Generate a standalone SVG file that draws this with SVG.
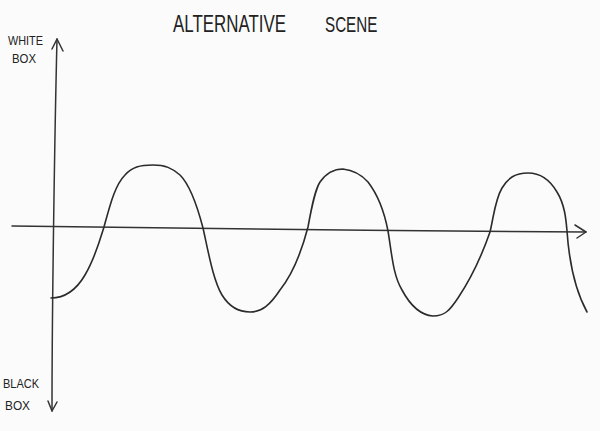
<svg xmlns="http://www.w3.org/2000/svg" width="600" height="431" viewBox="0 0 600 431">
  <style>
    .ink { fill: none; stroke: #2b2b2b; stroke-width: 1.6; stroke-linecap: round; stroke-linejoin: round; }
    .axis { fill: none; stroke: #333; stroke-width: 1.5; stroke-linecap: round; stroke-linejoin: round; }
    .hand { font-family: "Liberation Sans", "DejaVu Sans", sans-serif; fill: #222; }
  </style>
  <rect x="0" y="0" width="600" height="431" fill="#fbfbfb"/>

  <g id="title">
    <text class="hand" transform="translate(173,32) scale(1,1.4)" x="0" y="0" font-size="16.9">ALTERNATIVE</text>
    <text class="hand" transform="translate(325,32) scale(1,1.45)" x="0" y="0" font-size="15.2">SCENE</text>
  </g>

  <g id="label-white-box">
    <text class="hand" x="8" y="45" font-size="13.5" textLength="35" lengthAdjust="spacingAndGlyphs">WHITE</text>
    <text class="hand" x="12" y="63" font-size="13.5" textLength="24" lengthAdjust="spacingAndGlyphs">BOX</text>
  </g>

  <g id="label-black-box">
    <text class="hand" x="3" y="388" font-size="13.5" textLength="36" lengthAdjust="spacingAndGlyphs">BLACK</text>
    <text class="hand" x="5" y="410" font-size="13.5" textLength="25" lengthAdjust="spacingAndGlyphs">BOX</text>
  </g>

  <g id="axes">
    <path class="axis" d="M57,39 C55,120 52,300 52,411"/>
    <path class="axis" d="M52,49 L57,39 L63,51"/>
    <path class="axis" d="M48,401 L52,411 L57,402"/>
    <path class="axis" d="M12,226 C150,228 400,231 586,232"/>
    <path class="axis" d="M575,225 L586,232 L577,238"/>
  </g>

  <g id="wave">
    <path class="ink" d="M51,298 C62,298 75,292 85,275 C95,258 100,240 104,227
      C110,205 115,185 125,175 C132,167 140,165 153,165 C165,165 172,168 180,175 C190,185 197,205 203,228
      C208,250 213,280 222,295 C230,308 240,312 250,312 C262,312 270,305 280,290 C292,275 302,250 308,227
      C312,205 315,190 320,182 C327,172 335,169 343,169 C352,170 360,173 368,182 C378,195 384,210 388,231
      C392,255 393,275 402,290 C410,305 420,315 433,316 C445,316 450,310 458,298 C470,280 482,255 490,232
      C494,215 495,200 502,188 C508,178 515,173 528,173 C540,173 550,180 557,192 C565,205 566,220 567,231
      C569,260 575,290 587,312"/>
  </g>
</svg>
